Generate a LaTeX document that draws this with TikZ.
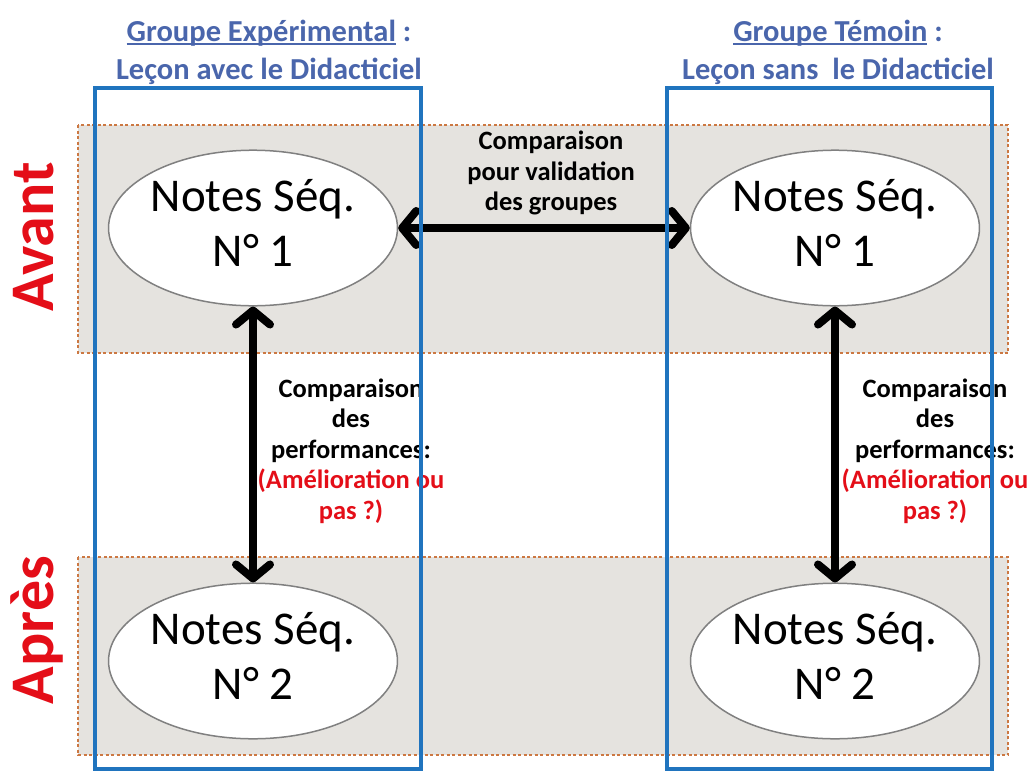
\documentclass[tikz,border=0pt]{standalone}
\usepackage{fontspec}
\setmainfont{Carlito}
\usetikzlibrary{arrows.meta,shapes.geometric}
\definecolor{bandfill}{RGB}{229,227,223}
\definecolor{banddash}{RGB}{204,120,66}
\definecolor{boxblue}{RGB}{32,116,190}
\definecolor{headblue}{RGB}{74,102,172}
\definecolor{myred}{RGB}{228,14,24}
\definecolor{ellgray}{RGB}{128,128,128}
\newcommand\myul[1]{\setbox0\hbox{#1}\rlap{\rule[-3.5pt]{\wd0}{1.3pt}}\box0\relax}
\tikzset{
  band/.style={fill=bandfill, draw=banddash, line width=1.6pt, dash pattern=on 3pt off 2.5pt},
  groupbox/.style={draw=boxblue, line width=3.2pt},
  noteell/.style={ellipse, draw=ellgray, line width=1.5pt, fill=white, minimum width=288pt, minimum height=148pt, inner sep=0pt, align=center, font=\fontsize{47}{55}\selectfont},
  header/.style={align=center, text=headblue, font=\bfseries\fontsize{30.5}{38}\selectfont},
  lbl/.style={align=center, font=\bfseries\fontsize{26.5}{30.5}\selectfont},
  phase/.style={rotate=90, anchor=base, text=myred, font=\bfseries\fontsize{62}{62}\selectfont, inner sep=0pt},
  dbl/.style={line width=8pt, {Straight Barb[length=14pt,width=34pt,round]}-{Straight Barb[length=14pt,width=34pt,round]}}
}
\begin{document}
\begin{tikzpicture}[x=1pt,y=-1pt]
\useasboundingbox (0,0) rectangle (1031,772);
\fill[white] (0,0) rectangle (1031,772);
% bands
\path[band] (78,125) rectangle (1008,353);
\path[band] (78,557) rectangle (1008,755);
% ellipses
\node[noteell] (e1) at (253,228) {\raisebox{3pt}{\begin{tabular}{@{}c@{}}Notes Séq.\\N° 1\end{tabular}}};
\node[noteell] (e2) at (835,228) {\raisebox{3pt}{\begin{tabular}{@{}c@{}}Notes Séq.\\N° 1\end{tabular}}};
\node[noteell] (e3) at (253,661) {\raisebox{3pt}{\begin{tabular}{@{}c@{}}Notes Séq.\\N° 2\end{tabular}}};
\node[noteell] (e4) at (835,661) {\raisebox{3pt}{\begin{tabular}{@{}c@{}}Notes Séq.\\N° 2\end{tabular}}};
% labels
\node[lbl] (lmid) at (551,173) {Comparaison\\pour validation\\des groupes};
\node[lbl] (lleft) at (351,451) {Comparaison\\des\\performances:\\\textcolor{myred}{(Amélioration ou}\\\textcolor{myred}{pas ?)}};
\node[lbl] (lright) at (935,451) {Comparaison\\des\\performances:\\\textcolor{myred}{(Amélioration ou}\\\textcolor{myred}{pas ?)}};
% arrows
\draw[dbl] (e1.east) -- (e2.west);
\draw[dbl] (e1.south) -- (e3.north);
\draw[dbl] (e2.south) -- (e4.north);
% group boxes
\draw[groupbox] (95,88) rectangle (421,769);
\draw[groupbox] (667,88) rectangle (992,769);
% headers
\node[header] (h1) at (269,52) {\myul{Groupe Expérimental} :\\Leçon avec le Didacticiel};
\node[header] (h2) at (838,52) {\myul{Groupe Témoin} :\\Leçon sans\ \ le Didacticiel};
% phases
\node[phase] (avant) at (53,237) {Avant};
\node[phase] (apres) at (53,630) {Après};
\end{tikzpicture}
\end{document}
